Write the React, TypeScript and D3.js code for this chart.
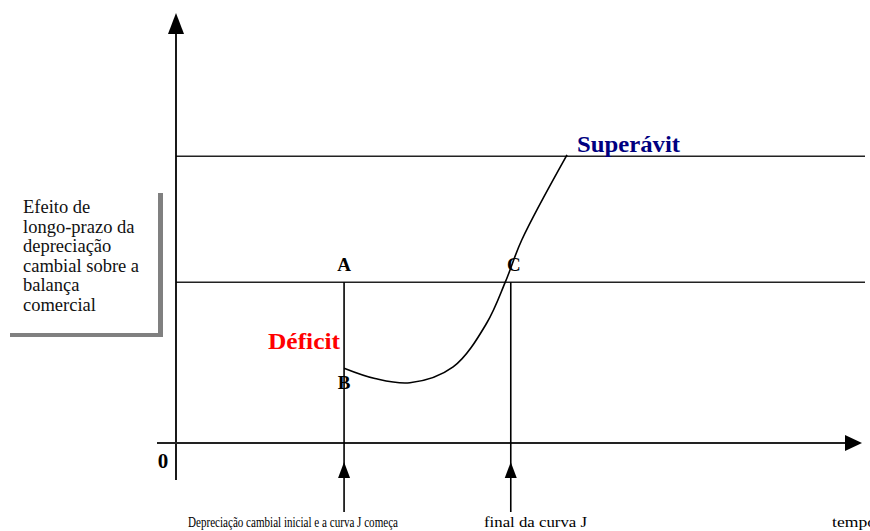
import React from "react";
import * as d3 from "d3";

// Data (abstract units): time on x, trade balance effect on y
const curveT = [24.5, 29.0, 34.1, 40.4, 45.3, 48.0, 50.4, 57.0];
const curveB = [17.4, 15.0, 14.0, 17.7, 27.9, 37.4, 47.2, 67.0];
const levelNames = ["longRun", "surplus"];
const levelValues = [37.4, 66.7];
const markerNames = ["A", "C"];
const markerTimes = [24.5, 48.8];
const boxLines = ["Efeito de", "longo-prazo da", "depreciação", "cambial sobre a", "balança", "comercial"];
const bottomLabels = ["Depreciação cambial inicial e a curva J começa", "final da curva J"];

const W = 870, H = 531;
const x = d3.scaleLinear().domain([0, 100]).range([176, 862]);
const y = d3.scaleLinear().domain([0, 100]).range([443, 13]);

export default function App() {
  const pts: [number, number][] = curveT.map((t, i) => [x(t), y(curveB[i])]);
  const line = d3.line().curve(d3.curveCatmullRom.alpha(0.5))(pts) || "";
  const serif = "Liberation Serif, Times New Roman, serif";
  const ax = x(0), ay = y(0);
  const xA = x(markerTimes[0]);
  const yMid = y(levelValues[0]);
  return (
    <svg width={W} height={H} style={{ position: "absolute", left: 0, top: 0, background: "#fff" }}>
      {levelValues.map((v, i) => (
        <line key={levelNames[i]} x1={ax} x2={865} y1={y(v)} y2={y(v)} stroke="#222" strokeWidth={1.6} />
      ))}
      <line x1={ax} x2={ax} y1={30} y2={480} stroke="#000" strokeWidth={1.8} />
      <path d={`M${ax},13 L${ax - 8},34 L${ax + 8},34 Z`} fill="#000" />
      <line x1={157} x2={848} y1={ay} y2={ay} stroke="#222" strokeWidth={1.8} />
      <path d={`M862,${ay} L845,${ay - 8} L845,${ay + 8} Z`} fill="#000" />
      <text x={163} y={468} fontFamily={serif} fontWeight="bold" fontSize={21} textAnchor="middle">0</text>
      {markerTimes.map((t, i) => (
        <g key={markerNames[i]}>
          <line x1={x(t)} x2={x(t)} y1={yMid} y2={512} stroke="#000" strokeWidth={1.6} />
          <path d={`M${x(t)},462 L${x(t) - 6},478 L${x(t) + 6},478 Z`} fill="#000" />
          <text x={x(t) + (i === 1 ? 3 : 0)} y={271} fontFamily={serif} fontWeight="bold" fontSize={19} textAnchor="middle">{markerNames[i]}</text>
        </g>
      ))}
      <text x={xA} y={389} fontFamily={serif} fontWeight="bold" fontSize={19} textAnchor="middle">B</text>
      <path d={line} fill="none" stroke="#000" strokeWidth={1.6} />
      <text x={268} y={349} fontFamily={serif} fontWeight="bold" fontSize={24} fill="#ff0000" textLength={72} lengthAdjust="spacingAndGlyphs">Déficit</text>
      <text x={577} y={152} fontFamily={serif} fontWeight="bold" fontSize={24} fill="#000080" textLength={103} lengthAdjust="spacingAndGlyphs">Superávit</text>
      <rect x={158} y={193} width={5} height={144} fill="#808080" />
      <rect x={10} y={333} width={153} height={4} fill="#808080" />
      {boxLines.map((s, i) => (
        <text key={i} x={23} y={213 + i * 19.6} fontFamily={serif} fontSize={18.5} fill="#111">{s}</text>
      ))}
      <text x={188} y={527} fontFamily={serif} fontSize={15} textLength={210} lengthAdjust="spacingAndGlyphs">{bottomLabels[0]}</text>
      <text x={484} y={527} fontFamily={serif} fontSize={15} textLength={103} lengthAdjust="spacingAndGlyphs">{bottomLabels[1]}</text>
      <text x={832} y={527} fontFamily={serif} fontSize={15} textLength={44} lengthAdjust="spacingAndGlyphs">tempo</text>
    </svg>
  );
}
